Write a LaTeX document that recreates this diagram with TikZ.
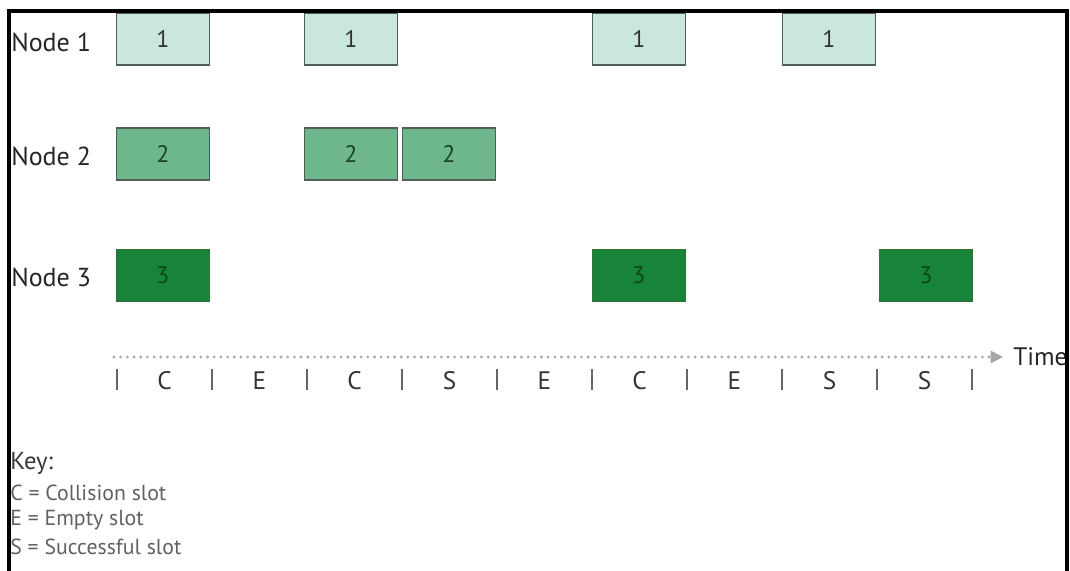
\documentclass[tikz,border=0pt]{standalone}
\usepackage{fontspec}
\setmainfont{PT Sans}
\usetikzlibrary{arrows.meta}

\definecolor{onefill}{HTML}{C9E7DA}
\definecolor{twofill}{HTML}{6EB78D}
\definecolor{threefill}{HTML}{17843A}
\definecolor{boxline}{HTML}{4F5E56}
\definecolor{axisgray}{HTML}{A6A6A6}

\begin{document}
\begin{tikzpicture}[
            x=0.025cm,
            y=-0.025cm,
            every node/.style={
                    inner sep=0pt,
                    font=\fontsize{18}{20}\selectfont
                },
            rowlabel/.style={
                    anchor=west,
                    text=black!85,
                    font=\fontsize{18.5}{20}\selectfont
                },
            slotbox/.style={
                    rectangle,
                    draw=boxline,
                    line width=1.1pt,
                    minimum width=2.325cm,
                    minimum height=1.3cm,
                    font=\fontsize{17}{19}\selectfont
                },
            nodeone/.style={
                    slotbox,
                    fill=onefill,
                    text=black!80
                },
            nodetwo/.style={
                    slotbox,
                    fill=twofill,
                    text=green!20!black!90
                },
            nodethree/.style={
                    slotbox,
                    fill=threefill,
                    draw=green!30!black!80,
                    text=green!25!black!95
                },
            slotletter/.style={
                    text=black!80
                },
            slottick/.style={
                    draw=black!60,
                    line width=1pt
                },
            axisline/.style={
                    draw=axisgray,
                    line width=2.2pt,
                    line cap=round,
                    dash pattern=on 0pt off 4.75pt,
                    -{Triangle[length=9pt,width=8.5pt]}
                },
            keytitle/.style={
                    anchor=west,
                    text=black!78,
                    font=\fontsize{17.5}{19}\selectfont
                },
            keyentry/.style={
                    anchor=west,
                    text=black!62,
                    font=\fontsize{15.5}{17}\selectfont
                },
            frameline/.style={
                    draw=black,
                    line width=2.2pt
                }
        ]

        \useasboundingbox (0,0) rectangle (1070,571);

        \node[rowlabel] (lblone) at (11,42) {Node 1};
        \node[rowlabel] (lbltwo) at (11,156) {Node 2};
        \node[rowlabel] (lblthree) at (11,277) {Node 3};

        \node[nodeone] (onea) at (163,39) {1};
        \node[nodeone] (oneb) at (351,39) {1};
        \node[nodeone] (onec) at (639,39) {1};
        \node[nodeone] (oned) at (829,39) {1};

        \node[nodetwo] (twoa) at (163,154) {2};
        \node[nodetwo] (twob) at (351,154) {2};
        \node[nodetwo] (twoc) at (449,154) {2};

        \node[nodethree] (threea) at (163,275.5) {3};
        \node[nodethree] (threeb) at (639,275.5) {3};
        \node[nodethree] (threec) at (926,275.5) {3};

        \coordinate (tstart) at (114,357);
        \node[anchor=west, text=black!85] (time) at (1013,357) {Time};
        \draw[axisline, shorten >=7pt] (tstart) -- (time.west);

        \foreach \k in {0,...,9}
            \draw[slottick] (117+95*\k,369) -- (117+95*\k,390);

        \foreach \s [count=\i from 0] in {C,E,C,S,E,C,E,S,S}
            \node[slotletter] (slot\i) at (164.5+95*\i,381) {\s};

        \node[keytitle] (key) at (10,463) {Key:};
        \node[keyentry] (keyc) at (10,493) {C = Collision slot};
        \node[keyentry] (keye) at (10,520) {E = Empty slot};
        \node[keyentry] (keys) at (10,547) {S = Successful slot};

        \draw[frameline] (9,571) -- (9,11) -- (1067,11) -- (1067,571);

    \end{tikzpicture}
\end{document}
